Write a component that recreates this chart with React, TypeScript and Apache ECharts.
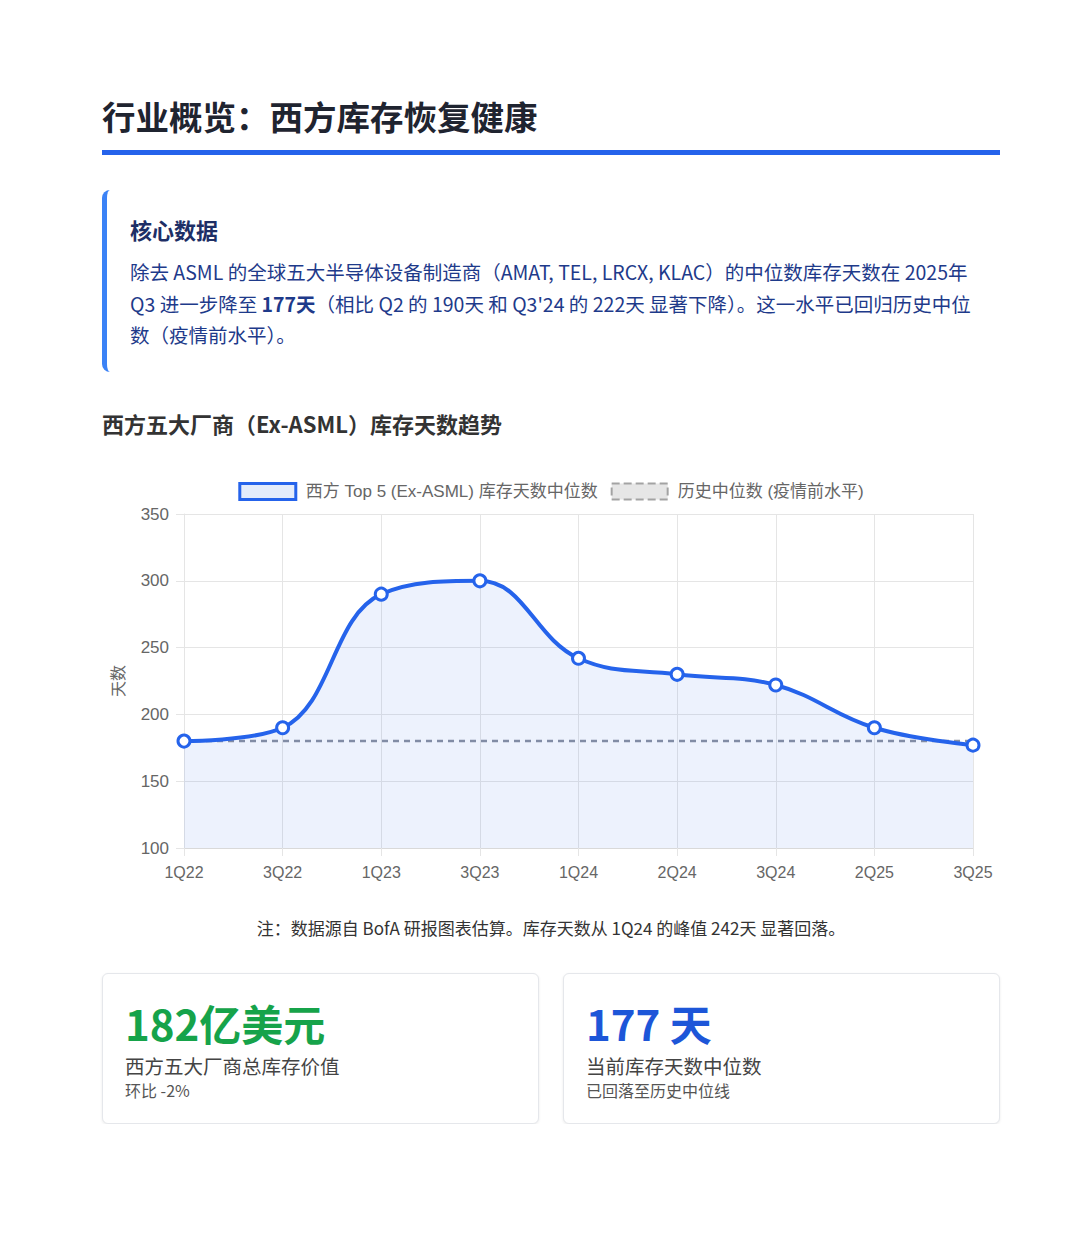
import { useEffect, useRef } from 'react'
import * as echarts from 'echarts'

// 数据
const quarters = ['1Q22', '3Q22', '1Q23', '3Q23', '1Q24', '2Q24', '3Q24', '2Q25', '3Q25']
const inventoryDays = [180, 190, 290, 300, 242, 230, 222, 190, 177]
const historicalMedian = [180, 180, 180, 180, 180, 180, 180, 180, 180]

const seriesNames = ['西方 Top 5 (Ex-ASML) 库存天数中位数', '历史中位数 (疫情前水平)']

const chartFont = "'Liberation Sans', 'Noto Sans CJK SC', sans-serif"
const pageFont = "'Noto Sans CJK SC', 'Noto Sans', sans-serif"

function InventoryChart() {
  const chartRef = useRef<HTMLDivElement>(null)

  useEffect(() => {
    if (!chartRef.current) return
    const chart = echarts.init(chartRef.current, undefined, { renderer: 'svg' })
    chart.setOption({
      animation: false,
      textStyle: { fontFamily: chartFont },
      legend: {
        top: 7,
        left: 'center',
        itemWidth: 56,
        itemHeight: 16,
        itemGap: 13,
        textStyle: { fontSize: 17, color: '#666', fontFamily: chartFont, padding: [0, 0, 0, 5] },
        data: [
          {
            name: seriesNames[0],
            icon: 'rect',
            itemStyle: { color: '#e4ecfb', borderColor: '#2563eb', borderWidth: 3 }
          },
          {
            name: seriesNames[1],
            icon: 'rect',
            itemStyle: { color: '#e6e6e6', borderColor: '#a3a3a3', borderWidth: 2, borderType: 'dashed' }
          }
        ]
      },
      grid: { left: 79, right: 27, top: 44, bottom: 52 },
      xAxis: {
        type: 'category',
        data: quarters,
        boundaryGap: false,
        axisLine: { lineStyle: { color: '#d9d9d9' } },
        axisTick: { show: true, length: 8, lineStyle: { color: '#e5e5e5' } },
        axisLabel: { fontSize: 16, color: '#666', margin: 16 },
        splitLine: { show: true, lineStyle: { color: '#e5e5e5' } }
      },
      yAxis: {
        type: 'value',
        min: 100,
        max: 350,
        interval: 50,
        name: '天数',
        nameLocation: 'middle',
        nameGap: 58,
        nameTextStyle: { fontSize: 16, color: '#666' },
        axisLine: { show: true, lineStyle: { color: '#e5e5e5' } },
        axisTick: { show: true, length: 8, lineStyle: { color: '#e5e5e5' } },
        axisLabel: { fontSize: 17, color: '#666', margin: 15 },
        splitLine: { lineStyle: { color: '#e5e5e5' } }
      },
      series: [
        {
          name: seriesNames[1],
          type: 'line',
          data: historicalMedian,
          symbol: 'none',
          z: 1,
          lineStyle: { color: '#8a90a0', width: 2.5, type: [6, 5] },
          itemStyle: { color: '#8a90a0' }
        },
        {
          name: seriesNames[0],
          type: 'line',
          data: inventoryDays,
          smooth: 0.4,
          z: 3,
          symbol: 'circle',
          symbolSize: 12,
          lineStyle: { color: '#2563eb', width: 4 },
          itemStyle: { color: '#fff', borderColor: '#2563eb', borderWidth: 3 },
          areaStyle: { color: 'rgba(37, 99, 235, 0.12)' }
        }
      ]
    })
    return () => chart.dispose()
  }, [])

  return <div ref={chartRef} style={{ width: 898, height: 430 }} />
}

export default function App() {
  const card: React.CSSProperties = {
    border: '1px solid #e5e7eb',
    borderRadius: 6,
    boxShadow: '0 1px 3px rgba(0,0,0,0.08)',
    padding: '25px 24px 22px 22px',
    background: '#fff'
  }

  return (
    <div style={{ fontFamily: pageFont, marginLeft: 94, width: 898, color: '#222' }}>
      {/* 标题 */}
      <h1
        style={{
          margin: 0,
          paddingTop: 87,
          paddingBottom: 13,
          fontSize: 33.5,
          lineHeight: '42px',
          fontWeight: 700,
          color: '#1f2430',
          borderBottom: '5px solid #2563eb'
        }}
      >
        行业概览：西方库存恢复健康
      </h1>

      {/* 核心数据 */}
      <div
        style={{
          marginTop: 35,
          borderLeft: '5px solid #3b82f6',
          borderRadius: 8,
          padding: '24px 20px 21px 23px',
          height: 137
        }}
      >
        <div style={{ fontSize: 22, lineHeight: '30px', fontWeight: 700, color: '#1e2f66' }}>核心数据</div>
        <div style={{ marginTop: 12, fontSize: 19.5, lineHeight: '31.5px', color: '#1e3a8a', whiteSpace: 'nowrap' }}>
          除去 ASML 的全球五大半导体设备制造商（AMAT, TEL, LRCX, KLAC）的中位数库存天数在 2025年
          <br />
          Q3 进一步降至 <b>177天</b>（相比 Q2 的 190天 和 Q3'24 的 222天 显著下降）。这一水平已回归历史中位
          <br />
          数（疫情前水平）。
        </div>
      </div>

      {/* 图表标题 */}
      <div style={{ marginTop: 37, fontSize: 22, lineHeight: '28px', fontWeight: 700, color: '#333' }}>
        西方五大厂商（Ex-ASML）库存天数趋势
      </div>

      <div style={{ marginTop: 33 }}>
        <InventoryChart />
      </div>

      <div style={{ marginTop: 16, fontSize: 17, lineHeight: '24px', color: '#333', textAlign: 'center' }}>
        注：数据源自 BofA 研报图表估算。库存天数从 1Q24 的峰值 242天 显著回落。
      </div>

      {/* 指标卡片 */}
      <div style={{ marginTop: 33, display: 'grid', gridTemplateColumns: '1fr 1fr', gap: 24 }}>
        <div style={card}>
          <div style={{ fontSize: 42, lineHeight: '48px', fontWeight: 700, color: '#16a34a' }}>182亿美元</div>
          <div style={{ marginTop: 6, fontSize: 19.5, lineHeight: '26px', color: '#444' }}>西方五大厂商总库存价值</div>
          <div style={{ fontSize: 16, lineHeight: '22px', color: '#555' }}>环比 -2%</div>
        </div>
        <div style={card}>
          <div style={{ fontSize: 42, lineHeight: '48px', fontWeight: 700, color: '#1d56d8' }}>177 天</div>
          <div style={{ marginTop: 6, fontSize: 19.5, lineHeight: '26px', color: '#444' }}>当前库存天数中位数</div>
          <div style={{ fontSize: 16, lineHeight: '22px', color: '#555' }}>已回落至历史中位线</div>
        </div>
      </div>
    </div>
  )
}
